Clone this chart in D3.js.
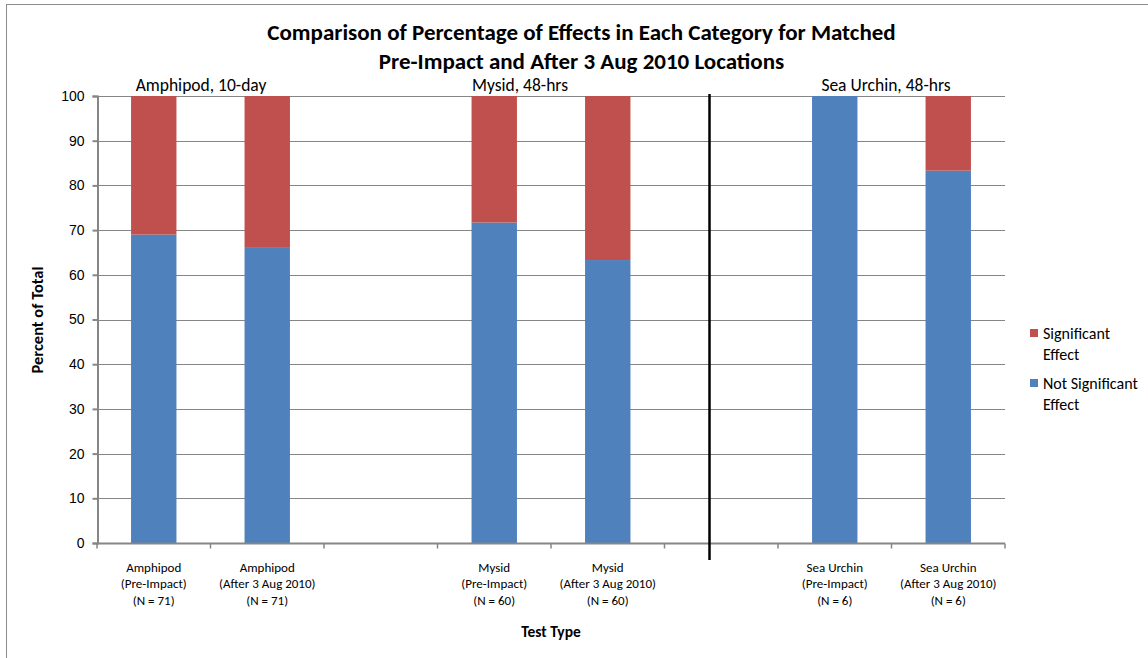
<!DOCTYPE html>
<html><head><meta charset="utf-8">
<script src="https://cdn.jsdelivr.net/npm/d3@7"></script>
<style>body{margin:0;background:#fff}svg{display:block;font-family:Carlito,Calibri,Lato,"Liberation Sans",sans-serif}</style>
</head><body><svg id="c" width="1148" height="658"></svg>
<script>
const slots = ["amph_pre","amph_post","gap1","mys_pre","mys_post","gap2","urch_pre","urch_post"];
const labels = {
  amph_pre:["Amphipod","(Pre-Impact)","(N = 71)"],
  amph_post:["Amphipod","(After 3 Aug 2010)","(N = 71)"],
  mys_pre:["Mysid","(Pre-Impact)","(N = 60)"],
  mys_post:["Mysid","(After 3 Aug 2010)","(N = 60)"],
  urch_pre:["Sea Urchin","(Pre-Impact)","(N = 6)"],
  urch_post:["Sea Urchin","(After 3 Aug 2010)","(N = 6)"]
};
const barCats = ["amph_pre","amph_post","mys_pre","mys_post","urch_pre","urch_post"];
const notSignificant = [69.0, 66.2, 71.7, 63.3, 100, 83.3];
const significant = [31.0, 33.8, 28.3, 36.7, 0, 16.7];
const seriesNames = ["Not Significant Effect","Significant Effect"];
const colors = ["#4F81BD","#C0504D"];
const yTicks = [0,10,20,30,40,50,60,70,80,90,100];
const groupTitles = ["Amphipod, 10-day","Mysid, 48-hrs","Sea Urchin, 48-hrs"];

const svg = d3.select("#c");
const L=97, R=1005, T=96, B=543;
const x = d3.scaleBand().domain(slots).range([L,R]).paddingInner(0.6).paddingOuter(0.3);
const xb = d3.scaleBand().domain(slots).range([L,R]);
const y = d3.scaleLinear().domain([0,100]).range([B,T]);

// outer frame
svg.append("rect").attr("x",6.5).attr("y",4.5).attr("width",1200).attr("height",700).attr("fill","none").attr("stroke","#8c8c8c");

// gridlines
svg.append("g").selectAll("line").data(yTicks.filter(d=>d>0)).join("line")
  .attr("x1",L).attr("x2",R).attr("y1",d=>Math.round(y(d))+0.5).attr("y2",d=>Math.round(y(d))+0.5)
  .attr("stroke","#868686").attr("stroke-width",1);

// stacked bars
const rows = barCats.map((c,i)=>({cat:c, v:[notSignificant[i], significant[i]]}));
const stack = d3.stack().keys([0,1]).value((d,k)=>d.v[k]);
const layers = stack(rows);
layers.forEach((layer,k)=>{
  svg.append("g").selectAll("rect").data(layer).join("rect")
    .attr("x",d=>x(d.data.cat)).attr("width",x.bandwidth())
    .attr("y",d=>y(d[1])).attr("height",d=>y(d[0])-y(d[1]))
    .attr("fill",colors[k]);
});

// y axis
const ya = svg.append("g").attr("transform",`translate(${L+0.5},0)`)
  .call(d3.axisLeft(y).tickValues(yTicks).tickSize(5).tickPadding(8));
ya.selectAll("path,line").attr("stroke","#868686").attr("stroke-width",2);
ya.selectAll("text").attr("font-size",14).attr("fill","#000").style("font-family","inherit");

// x axis
const xa = svg.append("g").attr("transform",`translate(0,${B+0.5})`);
xa.append("line").attr("x1",L).attr("x2",R).attr("stroke","#868686").attr("stroke-width",2);
xa.selectAll("line.t").data(slots.map(s=>xb(s)).concat([R])).join("line").attr("class","t")
  .attr("x1",d=>d).attr("x2",d=>d).attr("y1",0).attr("y2",5).attr("stroke","#868686").attr("stroke-width",1.5);
barCats.forEach(c=>{
  const t = xa.append("text").attr("text-anchor","middle").attr("font-size",13).attr("fill","#000");
  labels[c].forEach((ln,i)=>t.append("tspan").attr("x",xb(c)+xb.bandwidth()/2).attr("y",28+i*16.5).text(ln));
});

// separator line
svg.append("line").attr("x1",709.5).attr("x2",709.5).attr("y1",94).attr("y2",560).attr("stroke","#000").attr("stroke-width",2.5);

// group titles
const groupX = [201, 520, 886];
groupTitles.forEach((g,i)=>{
  svg.append("text").attr("x",groupX[i]).attr("y",91).attr("text-anchor","middle").attr("font-size",17.5).text(g);
});

// title
svg.append("text").attr("x",581.5).attr("y",40).attr("text-anchor","middle").attr("font-size",23).attr("font-weight","bold").text("Comparison of Percentage of Effects in Each Category for Matched");
svg.append("text").attr("x",581.5).attr("y",69).attr("text-anchor","middle").attr("font-size",23).attr("font-weight","bold").text("Pre-Impact and After 3 Aug 2010 Locations");

// axis titles
svg.append("text").attr("x",551).attr("y",637).attr("text-anchor","middle").attr("font-size",15.5).attr("font-weight","bold").text("Test Type");
svg.append("text").attr("transform","translate(43,320) rotate(-90)").attr("text-anchor","middle").attr("font-size",16.5).attr("font-weight","bold").text("Percent of Total");

// legend
const leg = [{name:["Significant","Effect"],c:colors[1],y:329},{name:["Not Significant","Effect"],c:colors[0],y:379}];
leg.forEach(l=>{
  svg.append("rect").attr("x",1030).attr("y",l.y).attr("width",8).attr("height",8).attr("fill",l.c);
  const t = svg.append("text").attr("font-size",16).attr("fill","#000");
  l.name.forEach((n,i)=>t.append("tspan").attr("x",1043).attr("y",l.y+10+i*20.5).text(n));
});
</script></body></html>
